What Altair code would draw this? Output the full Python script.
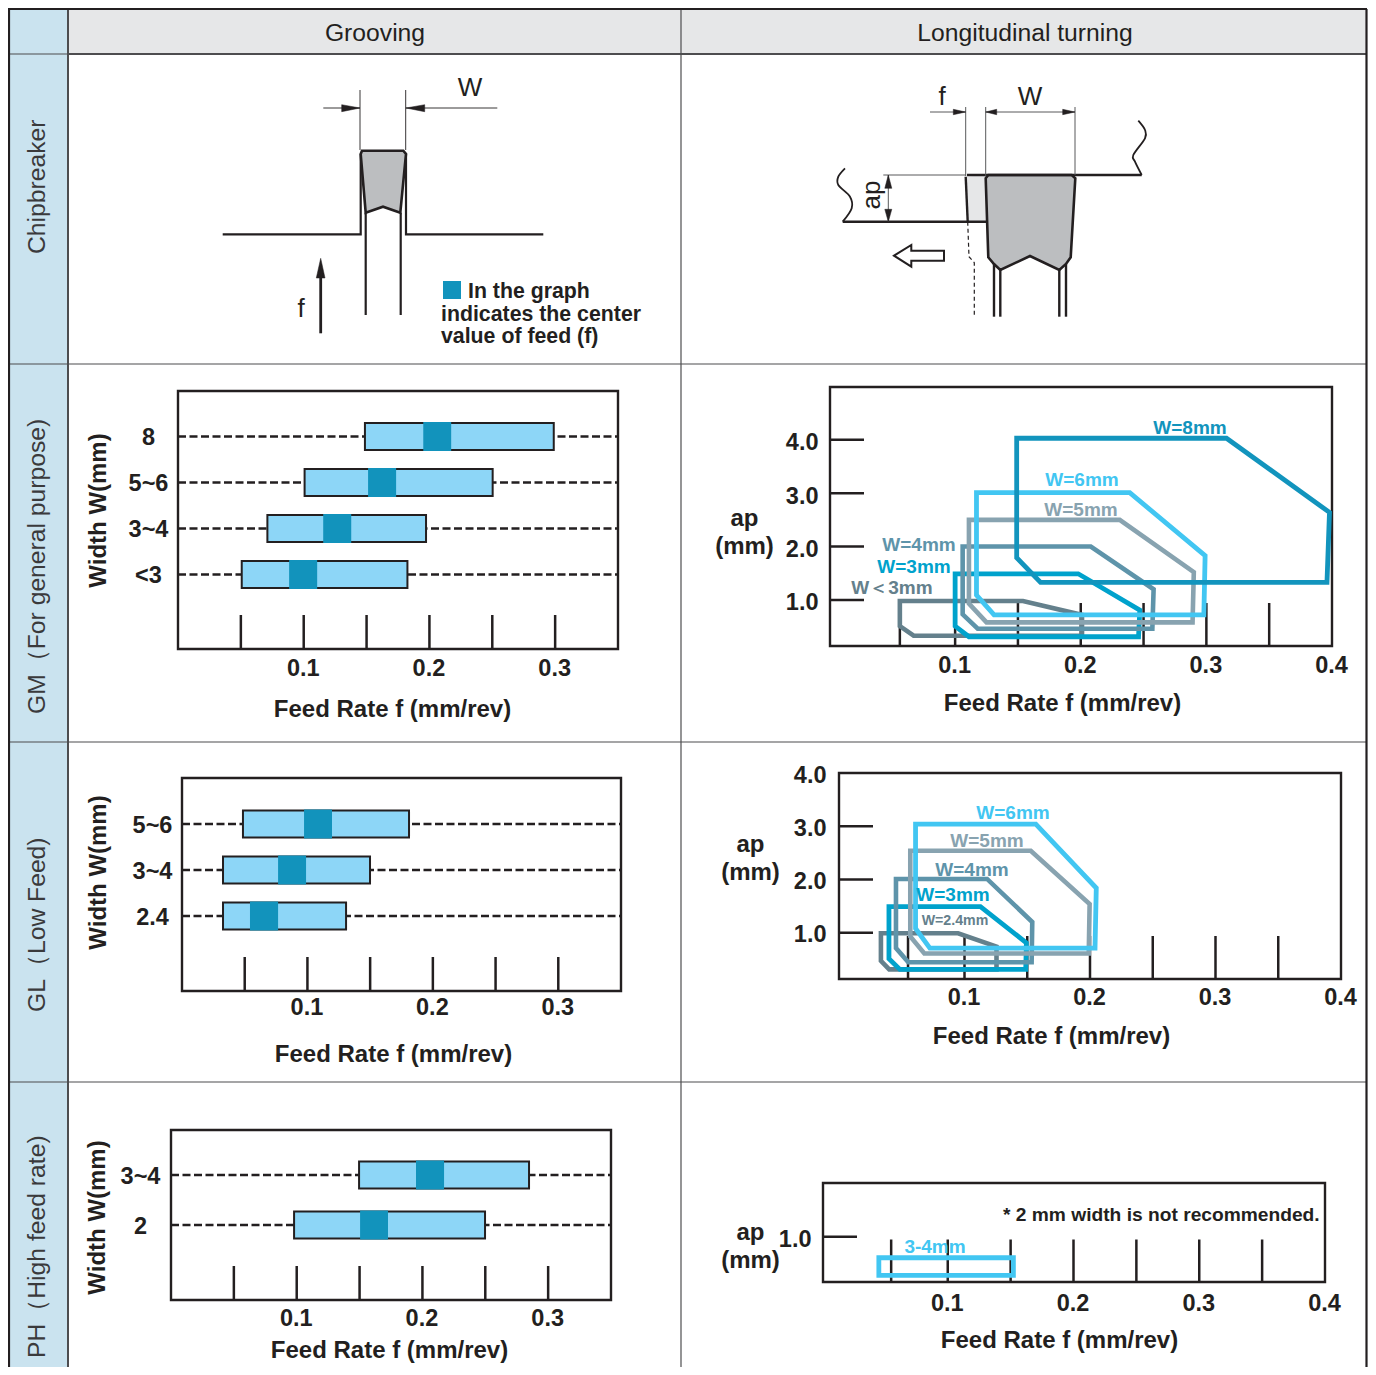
import altair as alt
import pandas as pd

FONT = "Liberation Sans"
INK = "#231f20"
W, H = 1360, 1359
BAR, CORE = "#8DD6F7", "#1293BC"

# ---------- feed-range bars (left column) ----------
GM_CATS = ["8", "5~6", "3~4", "<3"]
GM_LOW = [0.1487, 0.1007, 0.0711, 0.0507]
GM_HIGH = [0.2989, 0.2503, 0.1973, 0.1825]
GM_CLOW = [0.1951, 0.1512, 0.1155, 0.0884]
GM_CHIGH = [0.2173, 0.1735, 0.1378, 0.1107]

GL_CATS = ["5~6", "3~4", "2.4"]
GL_LOW = [0.0486, 0.0327, 0.0327]
GL_HIGH = [0.1810, 0.1499, 0.1308]
GL_CLOW = [0.0973, 0.0766, 0.0542]
GL_CHIGH = [0.1196, 0.0989, 0.0766]

PH_CATS = ["3~4", "2"]
PH_LOW = [0.1496, 0.0979]
PH_HIGH = [0.2848, 0.2498]
PH_CLOW = [0.1949, 0.1504]
PH_CHIGH = [0.2172, 0.1726]

LEFT_TICKS = [0.05, 0.1, 0.15, 0.2, 0.25, 0.3]
LEFT_LABELS = [0.1, 0.2, 0.3]
RIGHT_LABELS = [0.1, 0.2, 0.3, 0.4]
RIGHT_TICKS = [0.055, 0.1, 0.15, 0.2, 0.25, 0.3, 0.35]
AP_TICKS = [1.0, 2.0, 3.0, 4.0]

# ---------- cutting-range polygons (right column): (feed, ap) ----------
GM_POLY = [
    ("W<3mm", "#64808C", 4.6, [(.056, .98), (.154, .98), (.201, .72), (.201, .33), (.067, .33), (.056, .51)]),
    ("W=3mm", "#00A2CC", 4.8, [(.100, 1.49), (.198, 1.49), (.247, .81), (.246, .31), (.111, .31), (.100, .51)]),
    ("W=4mm", "#5E94AA", 4.6, [(.106, 2.0), (.208, 2.0), (.258, 1.2), (.257, .46), (.118, .46), (.106, .73)]),
    ("W=5mm", "#88A3B0", 4.6, [(.111, 2.50), (.231, 2.50), (.290, 1.52), (.289, .58), (.125, .58), (.111, .93)]),
    ("W=6mm", "#42C6F2", 4.8, [(.117, 3.01), (.239, 3.01), (.299, 1.83), (.298, .72), (.131, .72), (.117, 1.09)]),
    ("W=8mm", "#1294BD", 4.8, [(.149, 4.03), (.316, 4.03), (.398, 2.64), (.396, 1.33), (.168, 1.33), (.149, 1.79)]),
]
GL_POLY = [
    ("W=2.4mm", "#64808C", 4.6, [(.0334, .99), (.0949, .99), (.1255, .74), (.1255, .31), (.040, .31), (.0334, .47)]),
    ("W=3mm", "#00A2CC", 4.8, [(.0398, 1.49), (.1127, 1.49), (.1493, .81), (.1488, .31), (.0485, .31), (.0398, .51)]),
    ("W=4mm", "#5E94AA", 4.6, [(.0454, 2.01), (.118, 2.01), (.154, 1.2), (.1535, .445), (.0552, .445), (.0454, .71)]),
    ("W=5mm", "#88A3B0", 4.6, [(.0568, 2.54), (.1528, 2.54), (.1997, 1.54), (.199, .61), (.068, .61), (.0568, .93)]),
    ("W=6mm", "#42C6F2", 4.8, [(.061, 3.04), (.1568, 3.04), (.205, 1.84), (.204, .71), (.0724, .71), (.061, 1.08)]),
]
PH_POLY = [
    ("3-4mm", "#42C6F2", 4.8, [(.0452, .606), (.1522, .606), (.1522, .274), (.0452, .274)]),
]

# ---------- line art of the two tool sketches (page pixels) ----------
GROOVE_BODY = [(362, 150.7), (403.3, 150.7), (406, 154), (400.3, 212.7), (383, 206.7), (365.7, 212.7), (360.7, 154)]
GROOVE_WALL_L = [(222.7, 234.3), (360.7, 234.3), (360.7, 154)]
GROOVE_WALL_R = [(406, 154), (406, 234.3), (543.3, 234.3)]
GROOVE_SHANK_L = [(365.7, 212.7), (365.7, 315)]
GROOVE_SHANK_R = [(400.7, 212.7), (400.7, 315)]
GROOVE_THIN = [
    [(360, 90), (360, 150)], [(405.7, 90), (405.7, 150)],
    [(323.3, 108), (360, 108)], [(405.7, 108), (497.3, 108)],
]
GROOVE_HEADS = [
    [(341.7, 104.7), (360, 108), (341.7, 111.7)],
    [(424.7, 104.7), (406, 108), (424.7, 111.7)],
    [(320.7, 258.3), (316.3, 278), (325, 278)],
]
F_ARROW = [(320.7, 333.3), (320.7, 270)]

TURN_LIGHT = [(965.7, 176.7), (985.7, 175), (986.7, 221.7), (967.7, 221.7)]
TURN_BODY = [(985.7, 178.3), (988.3, 175), (1071.7, 175), (1075.3, 178.3), (1070.7, 257.3), (1066, 264), (1059.3, 270),
             (1030, 256), (1000.3, 270), (994, 264), (988.3, 257.3)]
TURN_DARK = [
    [(967, 175), (1141.7, 175)], [(842.7, 221.7), (986.7, 221.7)],
    [(965.7, 176.7), (967.7, 221.7)],
    [(994, 264), (994, 316.7)], [(1066, 264), (1066, 316.7)],
    [(1000.3, 270), (1000.3, 316.7)], [(1059.3, 270), (1059.3, 316.7)],
]
TURN_DASH = [(967.7, 221.7), (969, 256.7), (974.3, 262.7), (974.3, 316.7)]
TURN_THIN = [
    [(883.3, 175), (965.7, 175)],
    [(965.7, 107), (965.7, 176)], [(985.7, 107), (985.7, 176)], [(1075, 107), (1075, 175)],
    [(930, 112), (965.7, 112)], [(985.7, 112), (1075, 112)], [(888.3, 175), (888.3, 221.7)],
]
TURN_HEADS = [
    [(953.3, 109.3), (965.7, 112), (953.3, 114.7)],
    [(996.7, 109.3), (985.7, 112), (996.7, 114.7)],
    [(1062.7, 109.3), (1075, 112), (1062.7, 114.7)],
    [(888.3, 175), (884.8, 188.3), (891.8, 188.3)],
    [(888.3, 221.7), (884.8, 209.3), (891.8, 209.3)],
]
WAVE_R = [(1141.7, 175), (1135, 161.7), (1133.3, 155), (1145, 138.3), (1145, 130), (1138.3, 120.7)]
WAVE_L = [(842.7, 221.7), (851.7, 208.3), (850, 196.7), (838.3, 185), (838.3, 176.7), (845, 168.3)]
HOLLOW = [(894, 255.7), (911.3, 245), (911.3, 250.7), (944, 250.7), (944, 260.7), (911.3, 260.7), (911.3, 266.7)]

# ---------- table grid ----------
RIGHT_EDGE = 1367
BLUE_COL = [(9, 10), (68, 10), (68, 1376), (9, 1376)]
GREY_HEAD = [(68, 10), (RIGHT_EDGE, 10), (RIGHT_EDGE, 54), (68, 54)]
GRID_THIN = [
    [(9, 364), (RIGHT_EDGE, 364)], [(9, 742), (RIGHT_EDGE, 742)], [(9, 1082), (RIGHT_EDGE, 1082)],
    [(681, 10), (681, 1376)], [(9, 54), (68, 54)],
]
GRID_MID = [[(68, 54), (RIGHT_EDGE, 54)], [(68, 10), (68, 1376)]]
GRID_THICK = [[(8, 9), (RIGHT_EDGE, 9)], [(9, 9), (9, 1376)], [(RIGHT_EDGE - 0.5, 9), (RIGHT_EDGE - 0.5, 1376)]]

FRAMES = [
    (178, 391, 618, 649), (830, 387, 1332, 646),
    (182, 778, 621, 991), (839, 773, 1341, 979),
    (171, 1130, 611, 1300), (823, 1183, 1325, 1282),
]
LEGEND_SQ = [(443, 281), (461, 281), (461, 299), (443, 299)]

SX = alt.Scale(domain=[0, 1376], range=[-8, 1368], nice=False, zero=False)
SY = alt.Scale(domain=[0, 1375], range=[-8, 1367], nice=False, zero=False)


def poly(points, color=INK, width=2.0, fill=None, closed=False, dash=None, interp=None):
    df = pd.DataFrame(points, columns=["x", "y"])
    df["i"] = range(len(df))
    kw = dict(stroke=color, strokeWidth=width, strokeJoin="miter",
              interpolate=interp or ("linear-closed" if closed or fill else "linear"))
    if fill:
        kw["fill"] = fill
    if dash:
        kw["strokeDash"] = dash
    return alt.Chart(df).mark_line(**kw).encode(
        x=alt.X("x:Q", scale=SX, axis=None),
        y=alt.Y("y:Q", scale=SY, axis=None),
        order=alt.Order("i:Q"),
    )


def text(rows, **mk):
    kw = dict(font=FONT, baseline="middle", color=INK)
    kw.update(mk)
    df = pd.DataFrame(rows, columns=["x", "y", "t"])
    return alt.Chart(df).mark_text(**kw).encode(
        x=alt.X("x:Q", scale=SX, axis=None),
        y=alt.Y("y:Q", scale=SY, axis=None),
        text="t:N",
    )


def x_axis(vals, label_y, title_x, title_y):
    return alt.Axis(
        orient="bottom", offset=(label_y - 8) - H, values=vals, format=".1f",
        domain=False, ticks=False, grid=False, labelPadding=0, labelBaseline="middle", labelOffset=-1,
        labelFont=FONT, labelFontSize=23.5, labelFontWeight="bold", labelColor=INK,
        labelOverlap=False, labelFlush=False, labelBound=False,
        title="Feed Rate f (mm/rev)", titleFont=FONT, titleFontSize=24, titleFontWeight="bold",
        titleColor=INK, titleX=title_x - 8, titleY=title_y - label_y, titleAlign="center",
        titleBaseline="middle", zindex=1,
    )


def bars_panel(cats, low, high, clow, chigh, x0, x1, row0, row1, frame_bottom, tick_top,
               label_cx, title_cx, title_cy, label_y, xt, yt):
    sx = alt.Scale(domain=[0, 0.35], range=[x0 - 8, x1 - 8], nice=False, zero=False)
    sy = alt.Scale(type="point", domain=cats, range=[row0 - 8, row1 - 8], padding=0)
    df = pd.DataFrame({"w": cats, "low": low, "high": high, "clow": clow, "chigh": chigh})
    xax = x_axis(LEFT_LABELS, label_y, xt, yt)
    yax = alt.Axis(
        orient="left", offset=-(label_cx - 8), domain=False, ticks=False, grid=False,
        labelPadding=0, labelAlign="center", labelBaseline="middle", labelAngle=0, labelOffset=1,
        labelFont=FONT, labelFontSize=23.5, labelFontWeight="bold", labelColor=INK,
        labelOverlap=False, labelBound=False, labelFlush=False,
        title="Width W(mm)", titleFont=FONT, titleFontSize=24, titleFontWeight="bold", titleColor=INK,
        titleAngle=270, titleX=title_cx - label_cx, titleY=title_cy - 8, titleAlign="center",
        titleBaseline="middle", zindex=1,
    )
    dashes = alt.Chart(df).mark_rule(strokeDash=[8, 3.5], strokeWidth=2.4, color=INK).encode(
        y=alt.Y("w:O", scale=sy, axis=yax, sort=None),
        x=alt.value(x0 - 8), x2=alt.value(x1 - 8),
    )
    ticks = alt.Chart(pd.DataFrame({"f": LEFT_TICKS})).mark_rule(strokeWidth=2.5, color=INK).encode(
        x=alt.X("f:Q", scale=sx, axis=xax),
        y=alt.value(tick_top - 8), y2=alt.value(frame_bottom - 8),
    )
    bar = alt.Chart(df).mark_bar(color=BAR, stroke=INK, strokeWidth=2, size=27).encode(
        x=alt.X("low:Q", scale=sx, axis=xax), x2="high:Q",
        y=alt.Y("w:O", scale=sy, axis=yax, sort=None),
    )
    core = alt.Chart(df).mark_bar(color=CORE, size=29).encode(
        x=alt.X("clow:Q", scale=sx, axis=xax), x2="chigh:Q",
        y=alt.Y("w:O", scale=sy, axis=yax, sort=None),
    )
    return alt.layer(ticks, dashes, bar, core)


def poly_panel(polys, x0, x1, y_dom, y_rng, ticks_f, tick_top, y_ticks, y_labels, ylab_right,
               tick_right, xlab_vals, label_y, xt, yt, ap_x, ap_y, label_off):
    sx = alt.Scale(domain=[0, 0.4], range=[x0 - 8, x1 - 8], nice=False, zero=False)
    sy = alt.Scale(domain=y_dom, range=[y_rng[0] - 8, y_rng[1] - 8], nice=False, zero=False)
    xax = x_axis(xlab_vals, label_y, xt, yt)
    yax = alt.Axis(
        orient="left", offset=-(ylab_right - 8), values=y_labels, format=".1f", domain=False, ticks=False,
        grid=False, labelPadding=0, labelAlign="right", labelBaseline="middle", labelOffset=label_off,
        labelFont=FONT, labelFontSize=23.5, labelFontWeight="bold", labelColor=INK,
        labelOverlap=False, labelBound=False, labelFlush=False,
        title=["ap", "(mm)"], titleFont=FONT, titleFontSize=24, titleFontWeight="bold", titleColor=INK,
        titleAngle=0, titleX=ap_x - ylab_right, titleY=ap_y - 8, titleAlign="center", titleBaseline="middle",
        titleLineHeight=28, zindex=1,
    )
    vt = alt.Chart(pd.DataFrame({"f": ticks_f})).mark_rule(strokeWidth=2.5, color=INK).encode(
        x=alt.X("f:Q", scale=sx, axis=xax),
        y=alt.value(tick_top - 8), y2=alt.value(y_rng[0] - 8),
    )
    ht = alt.Chart(pd.DataFrame({"ap": y_ticks})).mark_rule(strokeWidth=2.5, color=INK).encode(
        y=alt.Y("ap:Q", scale=sy, axis=yax),
        x=alt.value(x0 - 8), x2=alt.value(tick_right - 8),
    )
    layers = [vt, ht]
    for name, color, width, pts in polys:
        df = pd.DataFrame(pts, columns=["f", "ap"])
        df["i"] = range(len(df))
        layers.append(
            alt.Chart(df).mark_line(color=color, strokeWidth=width, interpolate="linear-closed",
                                    strokeJoin="miter").encode(
                x=alt.X("f:Q", scale=sx, axis=xax),
                y=alt.Y("ap:Q", scale=sy, axis=yax),
                order=alt.Order("i:Q"),
            )
        )
    return alt.layer(*layers)


# ---------- assembling ----------
sheet = [poly(BLUE_COL, "#CAE3EF", 0, fill="#CAE3EF"), poly(GREY_HEAD, "#E6E7E8", 0, fill="#E6E7E8")]
sheet += [poly(p, "#4d4d4f", 1.2) for p in GRID_THIN]
sheet += [poly(p, "#4d4d4f", 2) for p in GRID_MID]
sheet += [poly(p, INK, 2.2) for p in GRID_THICK]
for a, b, c, d in FRAMES:
    sheet.append(poly([(a, b), (c, b), (c, d), (a, d)], INK, 2.4, closed=True))

art = [poly(p, INK, 2.2) for p in [GROOVE_WALL_L, GROOVE_WALL_R, GROOVE_SHANK_L, GROOVE_SHANK_R]]
art += [poly(GROOVE_BODY, INK, 2.6, fill="#BCBEC0")]
art += [poly(p, INK, 0.9) for p in GROOVE_THIN]
art += [poly(p, INK, 0.5, fill=INK) for p in GROOVE_HEADS]
art += [poly(F_ARROW, INK, 2.8), poly(LEGEND_SQ, CORE, 0, fill=CORE)]
art += [poly(TURN_LIGHT, "#E6E7E8", 0, fill="#E6E7E8"), poly(TURN_BODY, INK, 2.6, fill="#BCBEC0")]
art += [poly(p, INK, 2.4) for p in TURN_DARK]
art += [poly(TURN_DASH, INK, 1.2, dash=[4, 3])]
art += [poly(p, "#58595b", 1.0) for p in TURN_THIN]
art += [poly(p, INK, 0.5, fill=INK) for p in TURN_HEADS]
art += [poly(WAVE_R, INK, 1.8, interp="cardinal"), poly(WAVE_L, INK, 1.8, interp="cardinal")]
art += [poly(HOLLOW, INK, 2, fill="#ffffff")]

panels = [
    bars_panel(GM_CATS, GM_LOW, GM_HIGH, GM_CLOW, GM_CHIGH, 178, 618, 436.5, 574.5, 649, 615, 148, 98, 510, 668, 392, 709),
    bars_panel(GL_CATS, GL_LOW, GL_HIGH, GL_CLOW, GL_CHIGH, 182, 621, 824, 916, 991, 957, 152, 98, 872, 1007, 393, 1054),
    bars_panel(PH_CATS, PH_LOW, PH_HIGH, PH_CLOW, PH_CHIGH, 171, 611, 1175, 1225, 1300, 1266, 140, 97, 1217, 1318, 389, 1350),
    poly_panel(GM_POLY, 829.5, 1332, [.137, 4.99], [646, 387], [.056] + RIGHT_TICKS[1:], 603,
               AP_TICKS, AP_TICKS, 818, 864, RIGHT_LABELS, 665, 1062, 703, 744, 518, 3),
    poly_panel(GL_POLY, 839, 1341, [.13, 4.0], [979, 773], RIGHT_TICKS, 936,
               AP_TICKS[:3], AP_TICKS, 826, 873, RIGHT_LABELS, 997, 1051, 1036, 750, 844, 2),
    poly_panel(PH_POLY, 822, 1325, [.15, 2.01], [1282, 1183], RIGHT_TICKS, 1239.5,
               AP_TICKS[:1], AP_TICKS[:1], 811, 857, RIGHT_LABELS, 1303, 1059, 1340, 750, 1232, 3),
]

texts = [
    text([(38, 254, "Chipbreaker"), (38, 714, "GM（For general purpose)"),
          (38, 1012, "GL（Low Feed)"), (38, 1358, "PH（High feed rate)")],
         fontSize=24.7, angle=270, align="left", color="#3a3a3c"),
    text([(375, 34, "Grooving"), (1025, 34, "Longitudinal turning")], fontSize=24.7, align="center"),
    text([(470, 88, "W"), (1030, 97, "W"), (301, 309, "f"), (942, 97, "f")], fontSize=26, align="center"),
    text([(871.7, 195, "ap")], fontSize=26, align="center", angle=270),
    text([(468, 292, "In the graph"), (441, 315, "indicates the center"), (441, 337, "value of feed (f)")],
         fontSize=21.3, fontWeight="bold", align="left"),
    text([(1003, 1215, "* 2 mm width is not recommended.")], fontSize=19.2, fontWeight="bold", align="left"),
]
for x, y, t, c in [
    (1190, 428, "W=8mm", "#1294BD"), (1082, 480, "W=6mm", "#42C6F2"), (1081, 510, "W=5mm", "#88A3B0"),
    (919, 545, "W=4mm", "#5E94AA"), (914, 567, "W=3mm", "#00A2CC"), (892, 588, "W＜3mm", "#64808C"),
    (1013, 813, "W=6mm", "#42C6F2"), (987, 841, "W=5mm", "#88A3B0"), (972, 870, "W=4mm", "#5E94AA"),
    (953, 895, "W=3mm", "#00A2CC"), (935, 1247, "3-4mm", "#42C6F2"),
]:
    texts.append(text([(x, y, t)], fontSize=19, fontWeight="bold", align="center", color=c))
texts.append(text([(955, 921, "W=2.4mm")], fontSize=14.2, fontWeight="bold", align="center", color="#64808C"))

chart = (
    alt.layer(alt.layer(*sheet), *panels, alt.layer(*art), alt.layer(*texts))
    .resolve_scale(x="independent", y="independent")
    .properties(width=W, height=H, padding=0, autosize=alt.AutoSizeParams(type="none"), background="#ffffff")
    .configure_view(stroke=None)
)
chart.save("out.html", embed_options={"renderer": "svg", "actions": False})
